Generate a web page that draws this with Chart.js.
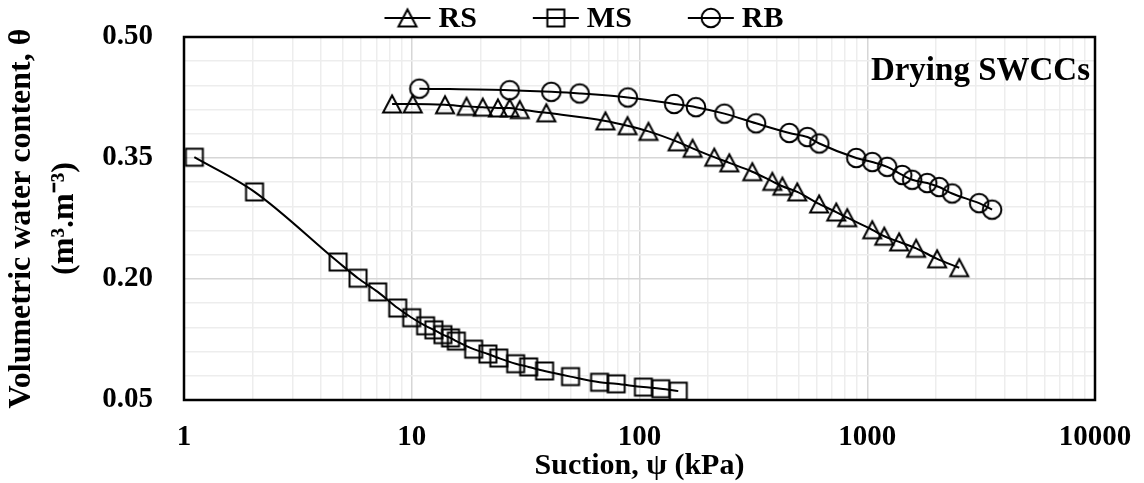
<!DOCTYPE html>
<html>
<head>
<meta charset="utf-8">
<script src="https://cdn.jsdelivr.net/npm/chart.js@4/dist/chart.umd.min.js"></script>
<style>
  html, body { margin: 0; padding: 0; background: #ffffff; }
  #wrap { width: 1144px; height: 483px; }
</style>
</head>
<body>
<div id="wrap"><canvas id="swcc" width="1144" height="483"></canvas></div>
<script>
// Axis tick labels
const xTickLabels = [1, 10, 100, 1000, 10000];
const yTickLabels = [0.05, 0.20, 0.35, 0.50];

// Series names
const seriesNames = ['RS', 'MS', 'RB'];

// RS: suction (kPa) and volumetric water content
const rsSuction = [8.2, 10.1, 14.0, 17.4, 20.5, 23.9, 26.9, 29.8, 39.0, 70.9, 88.6, 109.5, 147, 171, 213, 248, 313, 383, 424, 493, 615, 731, 817, 1052, 1188, 1381, 1640, 2028, 2535];
const rsTheta   = [0.417, 0.417, 0.416, 0.414, 0.413, 0.412, 0.412, 0.410, 0.406, 0.396, 0.390, 0.383, 0.370, 0.362, 0.351, 0.344, 0.333, 0.321, 0.315, 0.308, 0.293, 0.283, 0.276, 0.261, 0.253, 0.246, 0.238, 0.225, 0.214];

// MS
const msSuction = [1.11, 2.04, 4.75, 5.81, 7.09, 8.68, 10.0, 11.5, 12.5, 13.7, 14.8, 15.7, 18.7, 21.6, 24.1, 28.6, 32.6, 38.3, 49.8, 66.8, 79.0, 104, 124, 148];
const msTheta   = [0.351, 0.308, 0.221, 0.201, 0.184, 0.164, 0.152, 0.142, 0.137, 0.131, 0.127, 0.123, 0.113, 0.107, 0.102, 0.095, 0.091, 0.086, 0.079, 0.072, 0.070, 0.066, 0.064, 0.061];

// RB
const rbSuction = [10.8, 26.9, 41.0, 54.6, 88.9, 142, 177, 236, 325, 455, 546, 616, 895, 1052, 1224, 1424, 1575, 1834, 2069, 2359, 3099, 3533];
const rbTheta   = [0.436, 0.434, 0.432, 0.430, 0.425, 0.417, 0.413, 0.405, 0.393, 0.381, 0.376, 0.368, 0.350, 0.345, 0.339, 0.329, 0.323, 0.319, 0.314, 0.306, 0.294, 0.286];

const FONT = "'Liberation Serif', 'Times New Roman', serif";
const GRID_MAJOR = '#d6d6d6';
const GRID_MINOR = '#ededed';
const Y_MINOR_PER_MAJOR = 5;

// Hollow black markers drawn on small canvases
function makeMarker(shape) {
  const c = document.createElement('canvas');
  c.width = 24; c.height = 24;
  const g = c.getContext('2d');
  g.strokeStyle = '#000';
  g.lineWidth = 2;
  g.beginPath();
  if (shape === 'triangle') {
    g.moveTo(12, 3.5);
    g.lineTo(21, 20.5);
    g.lineTo(3, 20.5);
    g.closePath();
  } else if (shape === 'square') {
    g.rect(3.5, 3.5, 17, 17);
  } else {
    g.arc(12, 12, 9.3, 0, Math.PI * 2);
  }
  g.stroke();
  return c;
}
const markers = [makeMarker('triangle'), makeMarker('square'), makeMarker('circle')];

function toPoints(xs, ys) {
  return xs.map((x, i) => ({ x: x, y: ys[i] }));
}

function series(idx, xs, ys) {
  return {
    label: seriesNames[idx],
    data: toPoints(xs, ys),
    showLine: true,
    borderColor: '#000',
    borderWidth: 2,
    backgroundColor: 'transparent',
    cubicInterpolationMode: 'monotone',
    pointStyle: markers[idx],
    pointRadius: 10,
    pointHoverRadius: 10
  };
}

const isLabelled = (v, list) => list.some(t => Math.abs(t - v) < 1e-6 * Math.max(1, t));

// Frame, in-plot caption and legend
const decorations = {
  id: 'decorations',
  afterDraw(chart) {
    const { ctx, chartArea: a } = chart;
    ctx.save();
    ctx.strokeStyle = '#000';
    ctx.lineWidth = 2.5;
    ctx.strokeRect(a.left, a.top, a.right - a.left, a.bottom - a.top);

    ctx.fillStyle = '#000';
    ctx.font = 'bold 33px ' + FONT;
    ctx.textAlign = 'right';
    ctx.textBaseline = 'alphabetic';
    ctx.fillText('Drying SWCCs', a.right - 5, a.top + 43);

    // legend row
    ctx.font = 'bold 30px ' + FONT;
    ctx.textAlign = 'left';
    const lineLen = 46, gap = 8, spacing = 56, cy = 18;
    const widths = seriesNames.map(n => ctx.measureText(n).width);
    const total = widths.reduce((s, w) => s + lineLen + gap + w, 0) + spacing * (seriesNames.length - 1);
    let x = chart.width / 2 + 12 - total / 2;
    seriesNames.forEach((name, i) => {
      ctx.lineWidth = 2;
      ctx.beginPath();
      ctx.moveTo(x, cy);
      ctx.lineTo(x + lineLen, cy);
      ctx.stroke();
      const m = markers[i];
      ctx.drawImage(m, x + lineLen / 2 - m.width / 2, cy - m.height / 2);
      ctx.fillText(name, x + lineLen + gap, 27);
      x += lineLen + gap + widths[i] + spacing;
    });
    ctx.restore();
  }
};

new Chart(document.getElementById('swcc'), {
  type: 'scatter',
  data: {
    datasets: [
      series(0, rsSuction, rsTheta),
      series(1, msSuction, msTheta),
      series(2, rbSuction, rbTheta)
    ]
  },
  options: {
    responsive: false,
    animation: false,
    layout: { padding: { top: 37, right: 49, left: 0, bottom: 0 } },
    plugins: {
      legend: { display: false },
      tooltip: { enabled: false }
    },
    scales: {
      x: {
        type: 'logarithmic',
        position: 'bottom',
        min: xTickLabels[0],
        max: xTickLabels[xTickLabels.length - 1],
        afterBuildTicks(scale) {
          const ticks = [];
          for (let i = 0; i < xTickLabels.length - 1; i++) {
            for (let m = 1; m <= 9; m++) ticks.push({ value: xTickLabels[i] * m });
          }
          ticks.push({ value: xTickLabels[xTickLabels.length - 1] });
          scale.ticks = ticks;
        },
        afterFit(scale) { scale.height = 83; },
        ticks: {
          autoSkip: false,
          maxRotation: 0,
          padding: 0,
          color: '#000',
          font: { family: FONT, size: 29, weight: 'bold', lineHeight: 1.2 },
          callback: (v) => isLabelled(v, xTickLabels) ? String(v) : ''
        },
        grid: {
          drawTicks: true,
          tickLength: 20,
          tickColor: 'rgba(0,0,0,0)',
          lineWidth: 1.5,
          color: (c) => (c.tick && isLabelled(c.tick.value, xTickLabels)) ? GRID_MAJOR : GRID_MINOR
        },
        border: { display: false },
        title: {
          display: true,
          text: 'Suction, ψ (kPa)',
          color: '#000',
          font: { family: FONT, size: 30, weight: 'bold', lineHeight: 1.0 },
          padding: { top: 0, bottom: 2 }
        }
      },
      y: {
        type: 'linear',
        min: yTickLabels[0],
        max: yTickLabels[yTickLabels.length - 1],
        afterBuildTicks(scale) {
          const ticks = [];
          for (let i = 0; i < yTickLabels.length - 1; i++) {
            const step = (yTickLabels[i + 1] - yTickLabels[i]) / Y_MINOR_PER_MAJOR;
            for (let k = 0; k < Y_MINOR_PER_MAJOR; k++) {
              ticks.push({ value: Math.round((yTickLabels[i] + k * step) * 1e6) / 1e6 });
            }
          }
          ticks.push({ value: yTickLabels[yTickLabels.length - 1] });
          scale.ticks = ticks;
        },
        afterFit(scale) { scale.width = 184; },
        ticks: {
          autoSkip: false,
          padding: 0,
          color: '#000',
          font: { family: FONT, size: 29, weight: 'bold' },
          callback: (v) => isLabelled(v, yTickLabels) ? v.toFixed(2) : ''
        },
        grid: {
          drawTicks: true,
          tickLength: 31,
          tickColor: 'rgba(0,0,0,0)',
          lineWidth: 1.5,
          color: (c) => (c.tick && isLabelled(c.tick.value, yTickLabels)) ? GRID_MAJOR : GRID_MINOR
        },
        border: { display: false },
        title: {
          display: true,
          text: ['Volumetric water content, θ', '(m³.m⁻³)'],
          color: '#000',
          font: { family: FONT, size: 32, weight: 'bold', lineHeight: 1.32 },
          padding: { top: 1, bottom: 0 }
        }
      }
    }
  },
  plugins: [decorations]
});
</script>
</body>
</html>
